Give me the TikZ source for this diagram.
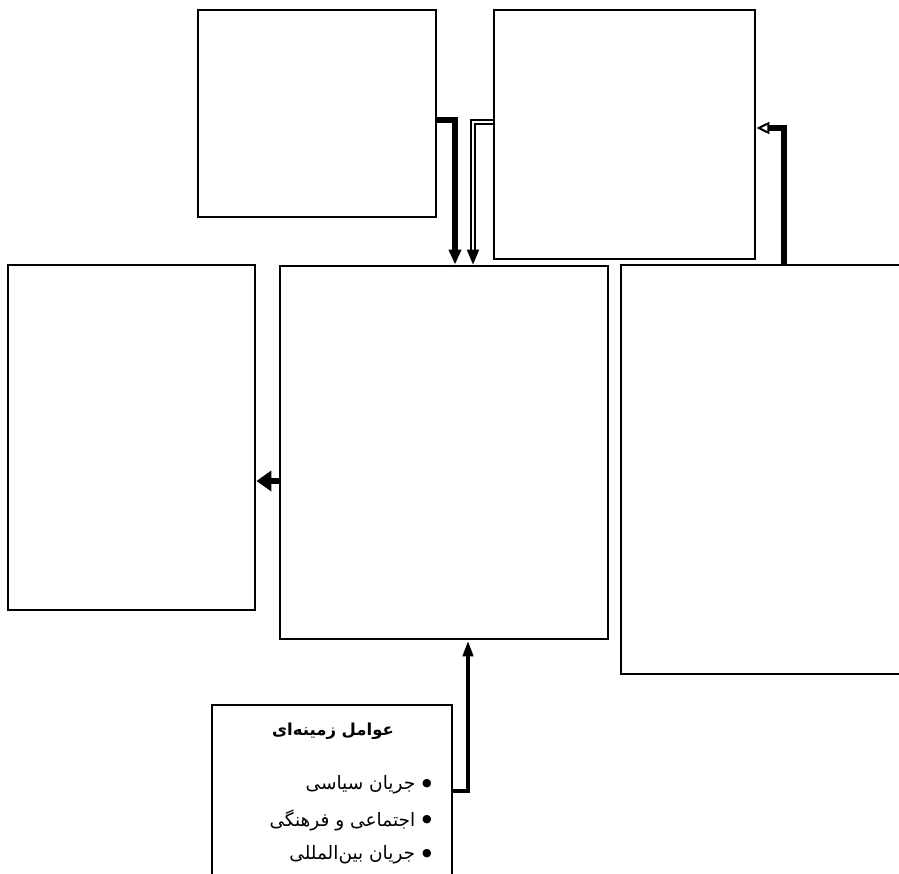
\documentclass[tikz,border=0pt]{standalone}
\usepackage{fontspec}
\newfontfamily\persianfont[Script=Arabic]{DejaVu Sans}
\TeXXeTstate=1
\usetikzlibrary{arrows.meta}
\newcommand{\dotitem}{\raisebox{3.5pt}{\fontsize{11}{11}\selectfont●}\hspace{7pt}}

\begin{document}
\begin{tikzpicture}[x=1pt, y=-1pt,
    box/.style={draw, line width=2.8pt, inner sep=0pt},
    heavy/.style={line width=5.5pt},
    fa/.style={font=\persianfont\fontsize{18.5}{20}\selectfont, inner sep=0pt}]
  \useasboundingbox (0,0) rectangle (899,873);
  % Upper boxes
  \node[box, minimum width=238pt, minimum height=207pt] (upleft) at (317,113.5) {};
  \node[box, minimum width=261pt, minimum height=249pt] (upright) at (624.5,134.5) {};
  % Middle row
  \node[box, minimum width=247pt, minimum height=345pt] (left) at (131.5,437.5) {};
  \node[box, minimum width=328pt, minimum height=373pt] (core) at (444,452.5) {};
  \node[box, minimum width=320pt, minimum height=409pt] (right) at (781,469.5) {};
  % Context factors
  \node[box, minimum width=240pt, minimum height=190pt] (context) at (332,800) {};
  \node[fa, font=\persianfont\bfseries\fontsize{16.5}{20}\selectfont] (ctxtitle) at (333,731)
    {\beginR عوامل زمینه‌ای\endR};
  \node[fa, anchor=east] (item1) at (432,785) {\beginR\dotitem جریان سیاسی\endR};
  \node[fa, anchor=east] (item2) at (432,820) {\beginR\dotitem اجتماعی و فرهنگی\endR};
  \node[fa, anchor=east] (item3) at (432,855) {\beginR\dotitem جریان بین‌المللی\endR};
  % Connectors
  \draw[heavy, -{Triangle[length=15pt, width=12pt]}]
    ([yshift=-6.5pt]upleft.east) -| ([xshift=11pt]core.north);
  \draw[line width=2pt, double, double distance=1.8pt, -{Triangle[length=15pt, width=12pt]}]
    ([yshift=12.5pt]upright.west) -| ([xshift=29pt]core.north);
  \draw[heavy, -{Triangle[open, length=13pt, width=12pt, line width=2pt]}]
    ([xshift=3pt]right.north) |- ([yshift=6.5pt]upright.east);
  \draw[heavy, -{Triangle[length=15pt, width=20pt]}]
    ([yshift=-28.5pt]core.west) -- ([yshift=-28.5pt]core.west -| left.east);
  \draw[line width=4.5pt, -{Triangle[length=16pt, width=10pt]}]
    ([yshift=9pt]context.east) -| ([xshift=24pt]core.south);
\end{tikzpicture}
\end{document}
